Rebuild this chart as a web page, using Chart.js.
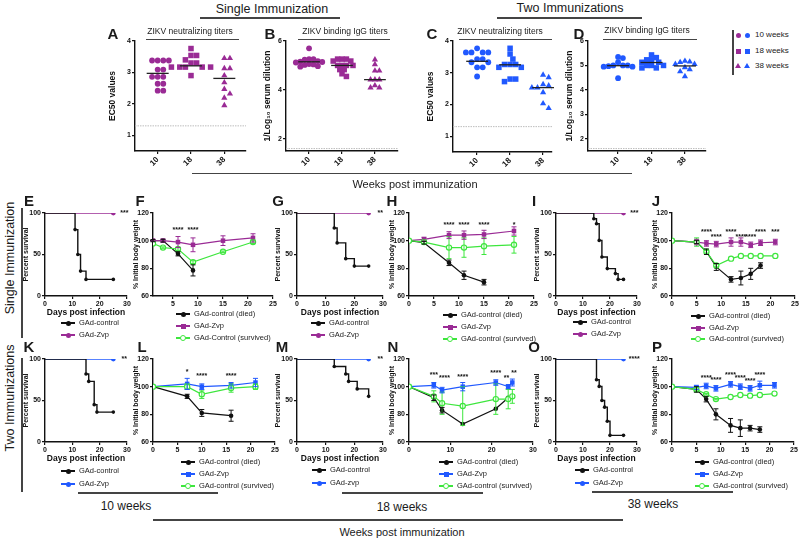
<!DOCTYPE html>
<html>
<head>
<meta charset="utf-8">
<script src="https://cdn.jsdelivr.net/npm/chart.js@4.4.0/dist/chart.umd.min.js"></script>
<style>
  body { margin: 0; background: #fff; }
  #fig { position: relative; width: 800px; height: 542px; overflow: hidden; font-family: "Liberation Sans", Arial, sans-serif; color: #1a1a1a; }
  #fig canvas { position: absolute; }
  .t { position: absolute; white-space: nowrap; line-height: 1; }
  .ln { position: absolute; background: #444; }
  .lg { position: absolute; font-size: 7.5px; line-height: 1; white-space: nowrap; color: #222; }
</style>
</head>
<body>
<div id="fig"></div>
<script>
const purple = '#9a2b95';
const blue = '#2159ff';
const green = '#3de63d';
const black = '#111111';

// ---- top row: antibody titers (A-D) ----
const weekLabels = ['10', '18', '38'];
const A10 = [3.38, 3.38, 3.38, 3.38, 3.09, 3.09, 2.86, 2.86, 2.86, 2.64, 2.64, 2.42, 2.42];
const A18 = [3.76, 3.54, 3.54, 3.40, 3.30, 3.30, 3.17, 3.17, 3.17, 3.17, 3.17, 2.90];
const A38 = [3.45, 3.45, 3.13, 3.13, 2.90, 2.68, 2.47, 2.32, 2.19, 1.95];
const B10 = [5.70, 5.26, 5.26, 5.24, 5.18, 5.16, 5.14, 5.12, 5.06, 5.04, 5.02, 4.97, 4.95];
const B18 = [5.26, 5.26, 5.26, 5.18, 5.18, 5.00, 5.00, 5.00, 5.00, 4.83, 4.83, 4.66, 4.55];
const B38 = [5.24, 5.04, 4.78, 4.78, 4.42, 4.42, 4.42, 4.18, 4.09, 4.09];
const C10 = [3.77, 3.64, 3.64, 3.64, 3.64, 3.43, 3.43, 3.33, 3.33, 3.17, 3.17, 2.88];
const C18 = [3.77, 3.59, 3.43, 3.26, 3.26, 3.26, 3.17, 3.17, 2.80, 2.80, 2.72];
const C38 = [2.93, 2.85, 2.63, 2.59, 2.53, 2.53, 2.53, 2.38, 2.03, 1.88];
const D10 = [5.35, 5.30, 5.13, 5.00, 5.00, 5.00, 4.97, 4.95, 4.95, 4.48];
const D18 = [5.43, 5.32, 5.23, 5.23, 5.13, 5.13, 5.00, 5.00, 5.00, 4.90, 4.90];
const D38 = [5.18, 5.15, 5.13, 5.05, 5.05, 4.92, 4.84, 4.75, 4.55];
const meanA = [2.97, 3.21, 2.81];
const meanB = [5.15, 5.00, 4.42];
const meanC = [3.36, 3.25, 2.53];
const meanD = [4.99, 5.12, 4.98];
const ec50Ticks = [1, 2, 3, 4];
const igg6Ticks = [2, 4, 6];
const iggDTicks = [2, 3, 4, 5, 6];

// ---- survival curves ----
const survTicks = [0, 50, 100];
const dayTicks30 = [0, 10, 20, 30];
const zvpDays = [0, 25];
const zvpSurv = [100, 100];
const daysE = [0, 11, 12, 13, 15, 25], survE = [100, 80, 50, 30, 20, 20];
const daysG = [0, 13, 14, 17, 20, 25], survG = [100, 82, 64, 45, 36, 36];
const daysI = [0, 14, 15, 16, 17, 19, 22, 23, 25], survI = [100, 93, 87, 67, 47, 33, 27, 20, 20];
const daysK = [0, 15, 16, 18, 19, 25], survK = [100, 82, 73, 45, 36, 36];
const daysM = [0, 13, 17, 18, 21, 25], survM = [100, 91, 82, 73, 64, 55];
const daysO = [0, 15, 16, 17, 18, 19, 20, 25], survO = [100, 75, 67, 50, 42, 25, 8, 8];

// ---- body weight (mean, error) ----
const weightTicks = [60, 80, 100, 120];
const dayTicks25 = [0, 5, 10, 15, 20, 25];
const dayTicksF = [5, 10, 15, 20, 25];
const fDied = [1, 3, 6, 9], fDiedW = [100, 100, 90.5, 78.5], fDiedE = [0.8, 1, 1.5, 4];
const fDays = [1, 3, 6, 9, 15, 21];
const fZvpW = [100, 100, 99, 97, 100, 102], fZvpE = [0.5, 1, 4, 5, 3.5, 3];
const fSurvW = [98, 95, 94, 84.5, 92, 99], fSurvE = [0, 0.5, 1, 1, 0.5, 1];
const hDied = [0, 3, 8, 11, 15], hDiedW = [100, 98.5, 84, 75, 70], hDiedE = [0, 1, 2, 3, 2];
const hDays = [0, 3, 8, 11, 15, 21];
const hZvpW = [100, 101, 104, 104, 104.5, 107], hZvpE = [0, 1.5, 2.5, 3, 3, 3];
const hSurvW = [100, 99, 95, 95, 96, 97], hSurvE = [0, 1, 8, 7, 6, 6];
const jDied = [0, 5, 7, 9, 12, 14, 16, 18], jDiedW = [100, 99, 92, 81, 72, 73, 76, 82], jDiedE = [0, 1, 2, 2.5, 2, 5, 4, 2];
const jDays = [0, 5, 7, 9, 12, 14, 16, 18, 21];
const jZvpW = [100, 99, 98, 97.5, 99, 99, 97, 98.5, 99], jZvpE = [0, 2, 2, 2, 3, 3, 2, 2, 2];
const jSurvW = [100, 99, 92, 82, 87, 89, 89, 89, 89], jSurvE = [0, 3, 1, 1, 0, 0, 0, 0, 0];
const lDied = [0, 7, 10, 16], lDiedW = [100, 93, 81, 79], lDiedE = [0, 1.5, 2.5, 4];
const lDays = [0, 7, 10, 16, 21];
const lZvpW = [100, 102, 100, 101, 103], lZvpE = [0, 4, 2, 2, 3];
const lSurvW = [100, 100, 94.5, 99, 100], lSurvE = [0, 2, 3, 3, 2];
const nDied = [0, 6, 8, 13, 21, 24], nDiedW = [100, 92, 83, 73, 84, 92], nDiedE = [0, 2, 2, 0, 0, 0];
const nDays = [0, 6, 8, 13, 21, 24, 25];
const nZvpW = [100, 101, 97.5, 100, 103, 100, 103], nZvpE = [0, 2, 2, 3, 2, 1.5, 2.5];
const nSurvW = [100, 93, 88, 86, 91, 91, 93], nSurvE = [0, 4, 8, 14, 11, 7, 5];
const pDied = [0, 5, 7, 9, 12, 14, 16, 18], pDiedW = [100, 98, 91, 80, 72, 70, 70, 69], pDiedE = [0, 2, 2, 4, 5, 6, 2, 2];
const pDays = [0, 5, 7, 9, 12, 14, 16, 18, 21];
const pZvpW = [100, 99.5, 100.5, 98.8, 101.7, 100, 98.8, 101, 101], pZvpE = [0, 1.5, 2, 2, 2, 2, 2, 3, 2];
const pSurvW = [100, 98, 94.5, 91, 92.5, 94, 93.5, 94, 95], pSurvE = [0, 1, 0.5, 0.5, 0, 0, 0, 0, 0];

Chart.defaults.font.family = '"Liberation Sans", Arial, sans-serif';
Chart.defaults.color = '#111';

const fig = document.getElementById('fig');

// error bars from dataset.err
Chart.register({
    id: 'errorBars',
    afterDatasetsDraw(chart) {
        const { ctx, scales: { x, y } } = chart;
        chart.data.datasets.forEach(ds => {
            if (!ds.err) return;
            ctx.save();
            ctx.strokeStyle = ds.borderColor;
            ctx.lineWidth = 1;
            ds.data.forEach((p, j) => {
                const e = ds.err[j];
                if (!e) return;
                const px = x.getPixelForValue(p.x);
                const y1 = y.getPixelForValue(p.y - e), y2 = y.getPixelForValue(p.y + e);
                ctx.beginPath();
                ctx.moveTo(px, y1); ctx.lineTo(px, y2);
                ctx.moveTo(px - 2.5, y1); ctx.lineTo(px + 2.5, y1);
                ctx.moveTo(px - 2.5, y2); ctx.lineTo(px + 2.5, y2);
                ctx.stroke();
            });
            ctx.restore();
        });
    }
});

// significance asterisks
Chart.register({
    id: 'stars',
    afterDatasetsDraw(chart, args, opts) {
        if (!opts.days) return;
        const { ctx, scales: { x, y } } = chart;
        ctx.save();
        ctx.fillStyle = '#111';
        ctx.font = 'bold 7px "Liberation Sans", Arial';
        ctx.textAlign = 'center';
        ctx.textBaseline = 'middle';
        opts.days.forEach((d, i) => {
            ctx.fillText(opts.labels[i], x.getPixelForValue(d), y.getPixelForValue(opts.levels[i]));
        });
        ctx.restore();
    }
});

// group mean lines and detection limit
Chart.register({
    id: 'meanLines',
    beforeDatasetsDraw(chart, args, opts) {
        if (opts.limit === undefined) return;
        const { ctx, chartArea, scales: { y } } = chart;
        const py = y.getPixelForValue(opts.limit);
        ctx.save();
        ctx.strokeStyle = '#bdbdbd';
        ctx.lineWidth = 1;
        ctx.setLineDash([1.5, 1]);
        ctx.beginPath();
        ctx.moveTo(chartArea.left, py); ctx.lineTo(chartArea.right, py);
        ctx.stroke();
        ctx.restore();
    },
    afterDatasetsDraw(chart, args, opts) {
        if (!opts.values) return;
        const { ctx, scales: { x, y } } = chart;
        ctx.save();
        ctx.strokeStyle = '#222';
        ctx.lineWidth = 1.3;
        opts.values.forEach((v, i) => {
            const py = y.getPixelForValue(v);
            ctx.beginPath();
            ctx.moveTo(x.getPixelForValue(i + 0.67), py);
            ctx.lineTo(x.getPixelForValue(i + 1.33), py);
            ctx.stroke();
        });
        ctx.restore();
    }
});

function makeChart(plot, padT, padR, mL, mB, config) {
    const c = document.createElement('canvas');
    const w = plot.r - plot.l + mL + padR, h = plot.b - plot.t + padT + mB;
    c.width = w; c.height = h;
    c.style.left = (plot.l - mL) + 'px';
    c.style.top = (plot.t - padT) + 'px';
    c.style.width = w + 'px';
    c.style.height = h + 'px';
    fig.appendChild(c);
    const o = config.options;
    o.responsive = false;
    o.animation = false;
    o.layout = { padding: { top: padT, right: padR, left: 0, bottom: 0 } };
    o.scales.x.afterFit = s => { s.height = mB; };
    o.scales.y.afterFit = s => { s.width = mL; };
    o.plugins = Object.assign({ legend: { display: false }, tooltip: { enabled: false } }, o.plugins || {});
    return new Chart(c, config);
}

function axis(min, max, ticks, extra) {
    return Object.assign({
        type: 'linear', min, max,
        afterBuildTicks: s => { s.ticks = ticks.map(v => ({ value: v })); },
        grid: { display: true, drawOnChartArea: false, drawTicks: true, tickLength: 3, color: '#111', lineWidth: 1.2 },
        border: { display: true, color: '#111', width: 1.4 },
        ticks: { font: { size: 7, weight: 'bold' }, padding: 1, maxRotation: 0, autoSkip: false }
    }, extra || {});
}

function pts(xs, ys) {
    return xs.map((x, i) => ({ x, y: ys[i] }));
}

// spread equal values sideways (beeswarm) around category centre
function swarm(values, cat, unitX, unitY, d) {
    const placed = [];
    values.forEach(v => {
        const py = v * unitY;
        let best = 0;
        for (let k = 0; k < 40; k++) {
            const off = (k % 2 ? 1 : -1) * Math.ceil(k / 2) * d / 2;
            if (placed.every(p => Math.hypot(p.ox - off, p.py - py) >= d)) { best = off; break; }
        }
        placed.push({ ox: best, py });
    });
    return placed.map((p, i) => ({ x: cat + p.ox / unitX, y: values[i] }));
}

function titerPanel(plot, groups, color, xr, yr, yTicks, means, limit, yTitle, gap) {
    const unitX = (plot.r - plot.l) / (xr[1] - xr[0]);
    const unitY = (plot.b - plot.t) / (yr[1] - yr[0]);
    const styles = ['circle', 'rect', 'triangle'];
    const radii = [2.9, 3.9, 3.6];
    const datasets = groups.map((g, i) => ({
        data: swarm(g, i + 1, unitX, unitY, gap),
        pointStyle: styles[i], pointRadius: radii[i], borderWidth: 0,
        backgroundColor: color, showLine: false
    }));
    makeChart(plot, 8, 6, plot.mL, 22, {
        type: 'scatter',
        data: { datasets },
        options: {
            scales: {
                x: axis(xr[0], xr[1], [1, 2, 3], {
                    ticks: { font: { size: 8, weight: 'bold' }, padding: 1, minRotation: 45, maxRotation: 45, autoSkip: false,
                        callback: v => weekLabels[v - 1] }
                }),
                y: axis(yr[0], yr[1], yTicks, {
                    title: { display: true, text: yTitle, font: { size: 8.5, weight: 'bold' }, padding: 1 }
                })
            },
            plugins: { meanLines: { values: means, limit } }
        }
    });
}

function survivalPanel(plot, days, surv, zColor, star) {
    makeChart(plot, 8, 16, 24, 22, {
        type: 'line',
        data: {
            datasets: [
                { data: pts(days, surv), stepped: 'before', borderColor: black, borderWidth: 1.4,
                  backgroundColor: black, pointRadius: days.map((d, i) => i ? 1.8 : 0), pointBorderWidth: 0 },
                { data: pts(zvpDays, zvpSurv), borderColor: zColor, borderWidth: 1.4,
                  backgroundColor: zColor, pointRadius: [0, 2.4], pointBorderWidth: 0 }
            ]
        },
        options: {
            scales: {
                x: axis(0, 30, dayTicks30, {
                    title: { display: true, text: 'Days post infection', font: { size: 8.5, weight: 'bold' }, padding: { top: 1, bottom: 0 } }
                }),
                y: axis(0, 100, survTicks, {
                    title: { display: true, text: 'Percent survival', font: { size: 7, weight: 'bold' }, padding: 1 }
                })
            },
            plugins: { stars: { days: [29], labels: [star], levels: [100] } }
        }
    });
}

function weightPanel(plot, xr, xTicks, died, zvp, surv, zColor, starOpts) {
    const mk = (d, color, style, r, fill, bw) => ({
        data: pts(d[0], d[1]), err: d[2], borderColor: color, borderWidth: 1.2,
        pointStyle: style, pointRadius: r, backgroundColor: fill, pointBorderColor: color, pointBorderWidth: bw
    });
    makeChart(plot, 8, 8, 22, 14, {
        type: 'line',
        data: {
            datasets: [
                mk(surv, green, 'circle', 2.6, '#fff', 1.2),
                mk(zvp, zColor, 'rect', 3.2, zColor, 0),
                mk(died, black, 'circle', 2.3, black, 0)
            ]
        },
        options: {
            scales: {
                x: axis(xr[0], xr[1], xTicks),
                y: axis(60, 120, weightTicks, {
                    title: { display: true, text: '% Initial body weight', font: { size: 7, weight: 'bold' }, padding: 1 }
                })
            },
            plugins: { stars: starOpts }
        }
    });
}

// ---- build panels ----
titerPanel({ l: 135, t: 41, r: 246, b: 151, mL: 28 }, [A10, A18, A38], purple, [0.32, 3.65], [0.5, 4], ec50Ticks, meanA, 1.3, 'EC50 values', 5.6);
titerPanel({ l: 286, t: 41, r: 398, b: 151, mL: 24 }, [B10, B18, B38], purple, [0.30, 3.70], [1.5, 6], igg6Ticks, meanB, 1.6, '1/Log₁₀ serum dilution', 4.4);
titerPanel({ l: 453, t: 41, r: 552, b: 152, mL: 28 }, [C10, C18, C38], blue, [0.27, 3.27], [0.5, 4], ec50Ticks, meanC, 1.3, 'EC50 values', 5.6);
titerPanel({ l: 588, t: 41, r: 706, b: 151, mL: 24 }, [D10, D18, D38], blue, [0.10, 3.63], [1.5, 6], iggDTicks, meanD, 1.6, '1/Log₁₀ serum dilution', 4.8);

const row1 = { t: 213, b: 296 }, row2 = { t: 359, b: 442 };
const R = (l, r, row) => ({ l, r, t: row.t, b: row.b });

survivalPanel(R(45, 127, row1), daysE, survE, purple, '***');
survivalPanel(R(297, 383, row1), daysG, survG, purple, '**');
survivalPanel(R(556, 637, row1), daysI, survI, purple, '***');
survivalPanel(R(45, 127, row2), daysK, survK, blue, '**');
survivalPanel(R(297, 383, row2), daysM, survM, blue, '**');
survivalPanel(R(556, 637, row2), daysO, survO, blue, '****');

weightPanel(R(153, 273, row1), [1, 25], dayTicksF,
    [fDied, fDiedW, fDiedE], [fDays, fZvpW, fZvpE], [fDays, fSurvW, fSurvE], purple,
    { days: [6, 9], labels: ['****', '****'], levels: [108, 108] });
weightPanel(R(409, 534, row1), [0, 25], dayTicks25,
    [hDied, hDiedW, hDiedE], [hDays, hZvpW, hZvpE], [hDays, hSurvW, hSurvE], purple,
    { days: [8, 11, 15, 21], labels: ['****', '****', '****', '*'], levels: [111, 111.5, 111, 111] });
weightPanel(R(672, 795, row1), [0, 25], dayTicks25,
    [jDied, jDiedW, jDiedE], [jDays, jZvpW, jZvpE], [jDays, jSurvW, jSurvE], purple,
    { days: [7, 9, 12, 14, 16, 18, 21], labels: ['****', '****', '****', '****', '****', '****', '***'],
      levels: [106, 102.5, 106, 102.5, 102.5, 106, 106] });
weightPanel(R(153, 275, row2), [0, 25], dayTicks25,
    [lDied, lDiedW, lDiedE], [lDays, lZvpW, lZvpE], [lDays, lSurvW, lSurvE], blue,
    { days: [7, 10, 16], labels: ['*', '****', '****'], levels: [110.5, 107.7, 107.7] });
weightPanel(R(409, 533, row2), [0, 30], dayTicks30,
    [nDied, nDiedW, nDiedE], [nDays, nZvpW, nZvpE], [nDays, nSurvW, nSurvE], blue,
    { days: [6, 8.6, 13, 21, 23.6, 25.4], labels: ['***', '****', '****', '****', '**', '**'],
      levels: [108.4, 106, 107, 109.7, 106.5, 109.7] });
weightPanel(R(672, 794, row2), [0, 25], dayTicks25,
    [pDied, pDiedW, pDiedE], [pDays, pZvpW, pZvpE], [pDays, pSurvW, pSurvE], blue,
    { days: [7, 9, 12, 14, 16, 18], labels: ['****', '****', '****', '****', '****', '****'],
      levels: [106, 105, 108.6, 106.5, 104, 108.4] });

// ---- text, rules, legends ----
function text(s, x, y, size, bold, rot) {
    const d = document.createElement('div');
    d.className = 't';
    d.textContent = s;
    d.style.left = x + 'px';
    d.style.top = y + 'px';
    d.style.fontSize = size + 'px';
    if (bold) d.style.fontWeight = 'bold';
    d.style.transform = 'translate(-50%,-50%)' + (rot ? ' rotate(-90deg)' : '');
    fig.appendChild(d);
}
function hline(x1, x2, y) {
    const d = document.createElement('div');
    d.className = 'ln';
    Object.assign(d.style, { left: x1 + 'px', top: y + 'px', width: (x2 - x1) + 'px', height: '1.5px' });
    fig.appendChild(d);
}
function vline(x, y1, y2) {
    const d = document.createElement('div');
    d.className = 'ln';
    Object.assign(d.style, { left: x + 'px', top: y1 + 'px', width: '1.5px', height: (y2 - y1) + 'px' });
    fig.appendChild(d);
}
function marker(x, y, color, kind) {
    const m = document.createElement('div');
    m.style.position = 'absolute';
    if (kind === 'tri') {
        Object.assign(m.style, { left: (x - 3) + 'px', top: (y - 3) + 'px', width: 0, height: 0,
            borderLeft: '3px solid transparent', borderRight: '3px solid transparent', borderBottom: '5.5px solid ' + color });
    } else {
        const s = kind === 'ring' ? 4 : 5;
        Object.assign(m.style, { left: (x - s / 2 - (kind === 'ring' ? 0.6 : 0)) + 'px', top: (y - s / 2 - (kind === 'ring' ? 0.6 : 0)) + 'px',
            width: s + 'px', height: s + 'px',
            borderRadius: kind === 'sq' ? '0' : '50%',
            background: kind === 'ring' ? '#fff' : color,
            border: kind === 'ring' ? '1.2px solid ' + color : 'none' });
    }
    fig.appendChild(m);
}
function legend(x, y, color, kind, label) {
    const l = document.createElement('div');
    l.className = 'ln';
    Object.assign(l.style, { left: (x - 7) + 'px', top: (y - 0.6) + 'px', width: '14px', height: '1.2px', background: color });
    fig.appendChild(l);
    marker(x, y, color, kind);
    const t = document.createElement('div');
    t.className = 'lg';
    t.textContent = label;
    t.style.left = (x + 11) + 'px';
    t.style.top = (y - 4) + 'px';
    fig.appendChild(t);
}

text('Single Immunization', 272, 9, 12.5);
hline(200, 340, 17);
text('Two Immunizations', 570, 8, 12.5);
hline(497, 642, 17);
text('A', 113, 33, 15, true);
text('B', 270, 33, 15, true);
text('C', 432, 33, 15, true);
text('D', 579, 33, 15, true);
text('ZIKV neutralizing titers', 190, 31, 8.5);
hline(146, 239, 38.5);
text('ZIKV binding IgG titers', 345, 31, 8.5);
hline(298, 390, 38.5);
text('ZIKV neutralizing titers', 500, 31, 8.5);
hline(459, 552, 38.5);
text('ZIKV binding IgG titers', 647, 30, 8.5);
hline(603, 697, 38.5);
hline(192, 632, 172.5);
text('Weeks post immunization', 415, 184, 11);

vline(732, 30, 75);
[['circle', '10 weeks', 35], ['sq', '18 weeks', 51], ['tri', '38 weeks', 66]].forEach(([k, s, y]) => {
    marker(738, y, purple, k === 'circle' ? 'dot' : k);
    marker(747, y, blue, k === 'circle' ? 'dot' : k);
    const t = document.createElement('div');
    t.className = 'lg';
    t.textContent = s;
    t.style.left = '755px';
    t.style.top = (y - 4) + 'px';
    t.style.fontSize = '8px';
    fig.appendChild(t);
});

text('Single Immunization', 10, 258, 12.5, false, true);
text('Two Immunizations', 10, 398, 12.5, false, true);
vline(21, 208, 338);
vline(21, 358, 492);

[['E', 29, 200], ['F', 140, 200], ['G', 278, 200], ['H', 392, 200], ['I', 534, 200], ['J', 656, 200],
 ['K', 29, 346], ['L', 142, 346], ['M', 282, 346], ['N', 393, 346], ['O', 534, 346], ['P', 657, 346]]
    .forEach(([s, x, y]) => text(s, x, y, 15, true));

legend(68, 323, black, 'dot', 'GAd-control');
legend(68, 335, purple, 'dot', 'GAd-Zvp');
legend(183, 314, black, 'dot', 'GAd-control (died)');
legend(183, 326, purple, 'sq', 'GAd-Zvp');
legend(183, 338, green, 'ring', 'GAd-Control (survived)');
legend(318, 323, black, 'dot', 'GAd-control');
legend(318, 335, purple, 'dot', 'GAd-Zvp');
legend(450, 315, black, 'dot', 'GAd-control (died)');
legend(450, 327, purple, 'sq', 'GAd-Zvp');
legend(450, 339, green, 'ring', 'GAd-control (survived)');
legend(580, 322, black, 'dot', 'GAd-control');
legend(580, 334, purple, 'dot', 'GAd-Zvp');
legend(698, 316, black, 'dot', 'GAd-control (died)');
legend(698, 328, purple, 'sq', 'GAd-Zvp');
legend(698, 339, green, 'ring', 'GAd-control (survived)');

legend(68, 471, black, 'dot', 'GAd-control');
legend(68, 484, blue, 'dot', 'GAd-Zvp');
legend(188, 462, black, 'dot', 'GAd-control (died)');
legend(188, 474, blue, 'sq', 'GAd-Zvp');
legend(188, 486, green, 'ring', 'GAd-control (survived)');
legend(319, 470, black, 'dot', 'GAd-control');
legend(319, 483, blue, 'dot', 'GAd-zvp');
legend(446, 462, black, 'dot', 'GAd-control (died)');
legend(446, 474, blue, 'sq', 'GAd-Zvp');
legend(446, 486, green, 'ring', 'GAd-control (survived)');
legend(582, 470, black, 'dot', 'GAd-control');
legend(582, 483, blue, 'dot', 'GAd-Zvp');
legend(702, 462, black, 'dot', 'GAd-control (died)');
legend(702, 474, blue, 'sq', 'GAd-Zvp');
legend(702, 486, green, 'ring', 'GAd-control (survived)');

hline(78, 218, 492);
text('10 weeks', 126, 506, 12);
hline(342, 483, 492);
text('18 weeks', 402, 507, 12);
hline(592, 733, 491);
text('38 weeks', 653, 504, 12);
hline(153, 623, 519);
text('Weeks post immunization', 402, 532, 11);
</script>
</body>
</html>
